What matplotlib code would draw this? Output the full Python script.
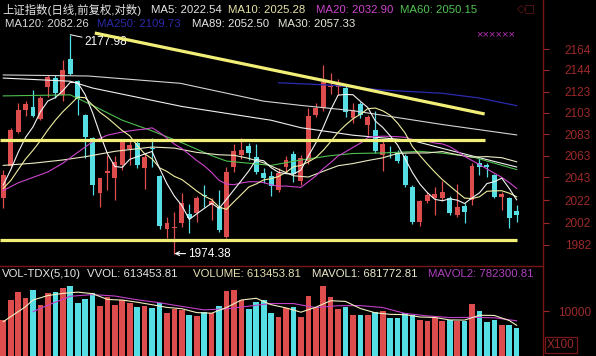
import matplotlib
matplotlib.use("Agg")
import matplotlib.pyplot as plt
from matplotlib.ticker import NullLocator, NullFormatter

plt.rcParams["font.family"] = ["Liberation Sans", "Noto Sans CJK SC", "DejaVu Sans"]

W, H = 596, 356

# daily candles (index 0 = left edge)
opens = [2024.2, 2053.5, 2084.9, 2105.6, 2108.5, 2097.2, 2127.4, 2136.0, 2119.8, 2154.4,
         2133.1, 2100.9, 2079.3, 2028.8, 2047.1, 2042.5, 2054.4, 2069.1, 2074.7, 2051.7,
         2070.1, 2044.3, 1996.3, 1997.0, 2001.7, 2009.8, 2010.7, 2026.4, 2017.9, 2016.1,
         1989.2, 2052.6, 2063.6, 2071.9, 2061.8, 2047.1, 2044.3, 2031.5, 2052.6, 2064.5,
         2039.7, 2058.1, 2100.9, 2107.5, 2127.4, 2127.4, 2126.5, 2098.1, 2111.3, 2091.5,
         2086.8, 2063.6, 2066.2, 2065.4, 2062.7, 2034.2, 2002.6, 2021.5, 2024.2, 2024.2,
         2024.2, 2008.9, 2017.0, 2022.4, 2056.2, 2054.4, 2045.2, 2025.1, 2024.2, 2012.5]
highs = [2049.8, 2088.7, 2112.3, 2114.2, 2124.6, 2118.9, 2138.9, 2138.9, 2153.4, 2177.98,
         2134.1, 2101.9, 2080.3, 2042.5, 2063.6, 2062.7, 2078.4, 2076.5, 2077.5, 2064.5,
         2079.3, 2045.2, 2007.1, 2011.6, 2028.8, 2018.8, 2026.1, 2036.1, 2024.2, 2031.5,
         2052.6, 2073.8, 2079.3, 2074.7, 2073.8, 2051.7, 2048.9, 2051.7, 2062.7, 2067.3,
         2063.6, 2107.5, 2112.3, 2148.5, 2140.8, 2135.1, 2128.4, 2112.3, 2113.2, 2100.9,
         2104.7, 2076.5, 2071.9, 2068.2, 2064.5, 2036.1, 2022.4, 2029.7, 2034.2, 2039.7,
         2026.1, 2037.0, 2019.7, 2056.2, 2060.8, 2056.2, 2046.2, 2029.7, 2025.1, 2017.9]
lows = [2015.2, 2051.7, 2084.0, 2100.0, 2099.0, 2096.2, 2117.9, 2117.0, 2114.2, 2138.9,
        2100.9, 2060.8, 2027.0, 2016.1, 2031.5, 2022.4, 2049.8, 2054.4, 2051.7, 2032.4,
        2052.6, 1996.3, 1988.3, 1974.38, 1998.1, 1992.7, 2002.6, 2016.1, 2004.4, 1993.6,
        1988.3, 2048.0, 2059.9, 2059.0, 2046.2, 2037.9, 2026.1, 2029.7, 2048.0, 2038.8,
        2036.1, 2055.3, 2099.0, 2104.7, 2120.8, 2119.8, 2099.0, 2093.4, 2098.1, 2082.1,
        2065.4, 2048.9, 2060.8, 2056.2, 2034.2, 2000.8, 1999.0, 2019.7, 2008.9, 2021.5,
        2008.9, 2007.1, 2001.7, 2017.9, 2045.2, 2043.4, 2024.2, 2013.4, 1997.2, 2002.6]
closes = [2045.2, 2086.8, 2105.6, 2111.3, 2100.0, 2117.0, 2137.0, 2121.7, 2143.7, 2139.9,
          2116.0, 2080.3, 2036.1, 2042.5, 2048.9, 2057.2, 2076.5, 2072.8, 2054.4, 2061.8,
          2069.1, 1999.0, 2001.7, 1997.5, 2019.7, 2006.2, 2024.2, 2026.0, 2021.5, 1995.4,
          2048.0, 2067.3, 2068.2, 2065.4, 2048.0, 2042.5, 2035.2, 2047.1, 2059.0, 2046.2,
          2060.8, 2100.0, 2107.5, 2132.2, 2128.4, 2130.3, 2103.8, 2105.6, 2100.9, 2099.0,
          2067.3, 2073.8, 2065.8, 2058.1, 2036.1, 2002.6, 2021.5, 2027.0, 2027.9, 2029.7,
          2010.7, 2016.1, 2011.6, 2053.5, 2052.6, 2052.6, 2025.1, 2027.9, 2006.2, 2008.9]
# volume in units of 100
volumes = [8000, 12444, 14296, 12815, 14667, 11333, 14074, 14296, 15185, 15556,
           11852, 12593, 14074, 11111, 13185, 11333, 12444, 11852, 10963, 11111,
           10593, 11704, 9630, 10370, 10222, 9111, 8889, 9852, 9481, 11111,
           14519, 14667, 12444, 10444, 12074, 12444, 9630, 8741, 10593, 10963,
           8741, 13333, 10593, 15556, 13185, 10370, 10963, 9111, 9111, 9111,
           9704, 10000, 8370, 8370, 9481, 9111, 8000, 7852, 8370, 7852,
           8000, 7852, 7852, 11556, 10000, 7630, 8000, 6889, 6889, 6135]

ma5 = [2036, 2050, 2066, 2080, 2089.8, 2104.1, 2114.2, 2117.4, 2123.9, 2131.9,
       2131.7, 2120.3, 2103.2, 2083.0, 2064.8, 2053.0, 2052.2, 2059.6, 2062.0, 2064.5,
       2066.9, 2051.4, 2037.2, 2025.8, 2017.4, 2004.8, 2009.9, 2014.7, 2019.5, 2014.7,
       2023.0, 2031.6, 2040.1, 2048.9, 2059.4, 2058.3, 2051.9, 2047.6, 2046.4, 2046.0,
       2049.7, 2062.6, 2074.7, 2089.3, 2105.8, 2119.7, 2120.4, 2120.1, 2113.8, 2107.9,
       2095.3, 2089.3, 2081.4, 2072.8, 2060.2, 2047.3, 2036.8, 2029.1, 2023.0, 2021.7,
       2023.4, 2022.3, 2019.2, 2024.3, 2028.9, 2037.3, 2039.1, 2042.3, 2032.9, 2022.54]
ma10 = [2033, 2040, 2050, 2060, 2068, 2077, 2087, 2096, 2104, 2110.8,
        2117.9, 2117.3, 2110.3, 2103.4, 2098.3, 2092.3, 2086.3, 2081.4, 2072.5, 2064.7,
        2060.0, 2051.8, 2048.4, 2043.9, 2041.0, 2035.9, 2030.6, 2026.0, 2022.7, 2016.0,
        2013.9, 2020.8, 2027.4, 2034.2, 2037.0, 2040.7, 2041.8, 2043.9, 2047.6, 2052.7,
        2054.0, 2057.2, 2061.2, 2067.9, 2075.9, 2084.7, 2091.5, 2097.4, 2101.6, 2106.9,
        2107.5, 2104.9, 2100.7, 2093.3, 2084.1, 2071.3, 2063.1, 2055.2, 2047.9, 2041.0,
        2035.3, 2029.6, 2024.1, 2023.7, 2025.3, 2030.3, 2030.7, 2030.8, 2028.6, 2025.28]
ma20_x = [0, 2, 4, 6, 8, 10, 12, 14, 16, 18] + list(range(19, 70))
ma20 = [2031, 2038, 2043, 2048, 2056, 2066, 2076, 2082, 2085, 2087,
        2087.7, 2088.9, 2084.5, 2079.3, 2073.7, 2069.6, 2064.1, 2058.5, 2053.7, 2047.6,
        2040.3, 2036.9, 2036.3, 2037.9, 2039.0, 2039.0, 2038.3, 2036.2, 2034.9, 2035.1,
        2034.4, 2033.9, 2039.0, 2044.3, 2051.0, 2056.5, 2062.7, 2066.6, 2070.6, 2074.6,
        2079.8, 2080.7, 2081.1, 2080.9, 2080.6, 2080.0, 2078.0, 2077.3, 2076.3, 2074.7,
        2073.9, 2071.4, 2067.2, 2062.4, 2058.5, 2054.7, 2050.8, 2046.9, 2043.0, 2038.3,
        2032.90]
ma30_x = [0, 4, 8, 11, 15, 20, 23, 26, 29, 31, 33, 35, 37, 39, 41, 43, 45, 47, 49,
          51, 53, 55, 57, 59, 61, 63, 65, 67, 69]
ma30 = [2054, 2056, 2059, 2062, 2067, 2071, 2070, 2066, 2063.8, 2063.3, 2060.5, 2056.3,
        2050.4, 2044.5, 2043.3, 2048.6, 2053.7, 2055.7, 2058.5, 2061.0, 2065.1, 2065.5,
        2065.5, 2066.8, 2063.9, 2061.6, 2062.1, 2061.1, 2057.33]
ma60_x = [0, 9, 12, 16, 20, 24, 28, 30, 36, 40, 44, 47, 51, 56, 59, 63, 69]
ma60 = [2119, 2120, 2110, 2096, 2086, 2075, 2063, 2058, 2054, 2059, 2063, 2065,
        2065.5, 2067, 2065.3, 2062, 2050.15]
ma89_x = [0, 9, 12, 24, 36, 40, 47, 55, 60, 69]
ma89 = [2136, 2133, 2126.5, 2109, 2096, 2089, 2082, 2077, 2068, 2052.5]
ma120_x = [0, 11.4, 23.8, 35, 40, 47, 59, 69]
ma120 = [2139, 2138, 2131, 2114, 2110, 2105, 2092, 2082.26]
ma250_x = [37, 44, 51, 59, 64, 69]
ma250 = [2131.5, 2129.3, 2124.6, 2121.5, 2117, 2109.73]

mavol1_x = [0, 1, 2, 3, 4, 6, 8, 10, 12, 14, 16, 18, 20, 22, 24, 26, 28, 30, 32, 34,
            36, 38, 40, 42, 44, 46, 48, 50, 52, 54, 56, 58, 60, 62, 64, 66, 68, 69]
mavol1 = [7630, 8741, 9852, 10963, 12444, 13437, 13911, 14193, 13852, 12563, 12429,
          11955, 11393, 10800, 10504, 9644, 9511, 10770, 12444, 12830, 11407, 10696,
          9734, 10845, 12282, 12133, 10548, 9600, 9259, 9185, 8666, 8563, 8015, 7985,
          9052, 9008, 7882, 6818]
mavol2_x = [4, 6, 9, 12, 15, 18, 21, 24, 27, 30, 33, 36, 39, 42, 45, 48, 51, 54, 57,
            60, 63, 66, 69]
mavol2 = [9852, 11300, 13267, 13645, 13326, 12496, 11837, 11022, 10245, 10489, 11074,
          11667, 11652, 10756, 11171, 11193, 10770, 9459, 8911, 8541, 8593, 8496, 7823]

# hand-drawn yellow lines (index, price)
trend_x = [12.3, 64.7]
trend_y = [2179.6, 2101.9]
resist_x = [-0.5, 64.7]
resist_y = [2077.5, 2077.5]
support_x = [-0.5, 69.0]
support_y = [1986.5, 1986.5]

price_ticks = [2164, 2144, 2123, 2103, 2083, 2063, 2043, 2022, 2002, 1982]

UP = "#de4d4d"
DOWN = "#55dfe4"
AXIS_RED = "#9c2a2a"
YELLOW = "#f2ef78"


def fx(px):
    return px / W


def fy(py):
    return 1 - py / H


fig = plt.figure(figsize=(W / 100, H / 100), dpi=100, facecolor="black")
ax = fig.add_axes([0, fy(265), fx(543), 265 / H], facecolor="black")
axv = fig.add_axes([0, 0, fx(543), 90 / H], facecolor="black")

n = len(closes)
for i in range(n):
    o, h, l, c = opens[i], highs[i], lows[i], closes[i]
    col = UP if c >= o else DOWN
    ax.vlines(i, l, h, color=col, lw=0.9, zorder=2)
    ax.bar(i, max(abs(c - o), 0.8), bottom=min(o, c), width=0.66, color=col,
           linewidth=0, zorder=2)
    axv.bar(i, volumes[i], width=0.76, color=col, linewidth=0, zorder=2)

ax.plot(ma250_x, ma250, color="#2a2ab0", lw=0.9, zorder=3)
ax.plot(ma120_x, ma120, color="#d4d4d4", lw=0.8, zorder=3)
ax.plot(ma89_x, ma89, color="#f0f0f0", lw=0.8, zorder=3)
ax.plot(ma60_x, ma60, color="#4fbf4f", lw=0.8, zorder=3)
ax.plot(ma30_x, ma30, color="#ecebc4", lw=0.8, zorder=3)
ax.plot(ma20_x, ma20, color="#cc44cc", lw=0.8, zorder=3)
ax.plot(range(n), ma10, color="#f0eea0", lw=0.8, zorder=3)
ax.plot(range(n), ma5, color="#f4f4f4", lw=0.8, zorder=3)

for xs, ys in [(trend_x, trend_y), (resist_x, resist_y), (support_x, support_y)]:
    ax.plot(xs, ys, color=YELLOW, lw=2.3, solid_capstyle="butt", zorder=4)

ax.annotate("2177.98", xy=(9, 2177.98), xytext=(10.5, -5.5), textcoords="offset points",
            color="white", fontsize=8.5, ha="left", va="center",
            arrowprops=dict(arrowstyle="-", color="white", lw=0.7, shrinkA=0, shrinkB=0))
ax.annotate("1974.38", xy=(23, 1974.38), xytext=(10, 0), textcoords="offset points",
            color="white", fontsize=8.5, ha="left", va="center",
            arrowprops=dict(arrowstyle="->", color="white", lw=0.8, shrinkA=0, shrinkB=0,
                            mutation_scale=7))

ax.set_yscale("log")
ax.set_ylim(1964.3, 2212.1)
ax.set_xlim(-0.44, 72.54)
ax.yaxis.set_minor_locator(NullLocator())
ax.yaxis.set_minor_formatter(NullFormatter())
ax.set_yticks(price_ticks, [str(t) for t in price_ticks])
ax.set_xticks([])
ax.tick_params(axis="y", which="major", left=False, labelleft=False, right=True,
               labelright=True, colors=AXIS_RED, length=4, width=0.8, pad=30.5,
               labelsize=8.5)
for tick in ax.yaxis.get_major_ticks():
    tick.label2.set_horizontalalignment("right")

axv.plot(mavol2_x, mavol2, color="#c040c8", lw=0.8, zorder=3)
axv.plot(mavol1_x, mavol1, color="#f2eec0", lw=0.8, zorder=3)
axv.set_ylim(0, 20000)
axv.set_xlim(-0.44, 72.54)
axv.set_xticks([])
axv.set_yticks([10000], ["10000"])
axv.tick_params(axis="y", left=False, labelleft=False, right=True, labelright=True,
                colors=AXIS_RED, length=4, width=0.8, pad=30.5, labelsize=8.5)
for tick in axv.yaxis.get_major_ticks():
    tick.label2.set_horizontalalignment("right")

for a in (ax, axv):
    for side in ("left", "bottom", "top"):
        a.spines[side].set_visible(False)
    a.spines["right"].set_color("#7a1515")
    a.spines["right"].set_linewidth(1.0)
axv.spines["top"].set_visible(True)
axv.spines["top"].set_color("#7a1515")
axv.spines["top"].set_linewidth(1.0)

fs = 8.2
header = [
    (2, 10, "上证指数(日线,前复权,对数)", "#e6e6e6"),
    (151, 10, "MA5: 2022.54", "#e6e6e6"),
    (228, 10, "MA10: 2025.28", "#e8e4a8"),
    (316, 10, "MA20: 2032.90", "#cc44cc"),
    (400, 10, "MA60: 2050.15", "#52c452"),
    (5, 24, "MA120: 2082.26", "#d8d8d8"),
    (97, 24, "MA250: 2109.73", "#2a2aa8"),
    (192, 24, "MA89: 2052.50", "#e6e6e6"),
    (278, 24, "MA30: 2057.33", "#e6e6d8"),
    (2, 274, "VOL-TDX(5,10)", "#e6e6e6"),
    (87, 274, "VVOL: 613453.81", "#e6e6e6"),
    (193, 274, "VOLUME: 613453.81", "#e8e2b0"),
    (312, 274, "MAVOL1: 681772.81", "#ece8cc"),
    (428, 274, "MAVOL2: 782300.81", "#b040c0"),
]
for x, y, s, c in header:
    fig.text(fx(x), fy(y), s, color=c, fontsize=fs, ha="left", va="center")

fig.text(fx(476), fy(34), "××××××", color="#b030b0", fontsize=8, ha="left", va="center")
fig.text(fx(517), fy(8), "◇□", color="#6a1a1a", fontsize=8, ha="left", va="center",
         family=["DejaVu Sans"])
fig.text(fx(547), fy(345), "X100", color=AXIS_RED, fontsize=8.5, ha="left", va="center",
         bbox=dict(boxstyle="square,pad=0.15", facecolor="none", edgecolor="#7a1515", lw=0.9))

fig.savefig("out.png", dpi=100, facecolor="black")
